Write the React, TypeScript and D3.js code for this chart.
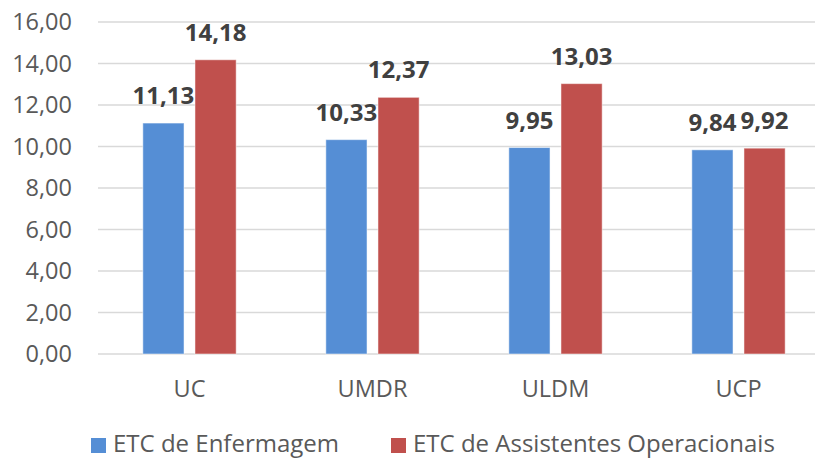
import React from "react";
import { scaleBand, scaleLinear } from "d3";

const categories = ["UC", "UMDR", "ULDM", "UCP"];
const seriesNames = ["ETC de Enfermagem", "ETC de Assistentes Operacionais"];
const enfermagem = [11.13, 10.33, 9.95, 9.84];
const assistentes = [14.18, 12.37, 13.03, 9.92];
const yTicks = [0, 2, 4, 6, 8, 10, 12, 14, 16];
const colors = ["#558ED5", "#C0504D"];

const fmt = (v: number) => v.toFixed(2).replace(".", ",");

const width = 815;
const height = 458;
const font = "'Open Sans', 'Noto Sans', sans-serif";

const App = () => {
  const x0 = scaleBand<string>()
    .domain(categories)
    .range([98, 830])
    .paddingInner(0.49)
    .paddingOuter(0.245);

  const x1 = scaleBand<string>()
    .domain(seriesNames)
    .range([0, x0.bandwidth()])
    .paddingInner(0.21);

  const y = scaleLinear().domain([0, 16]).range([354, 22]);

  const series = [enfermagem, assistentes];

  return (
    <svg
      width={width}
      height={height}
      style={{ position: "absolute", left: 0, top: 0, background: "#fff" }}
      fontFamily={font}
    >
      {/* grid + y labels */}
      {yTicks.map((t) => (
        <g key={t}>
          <line
            x1={98}
            x2={width}
            y1={y(t)}
            y2={y(t)}
            stroke="#d9d9d9"
            strokeWidth={1.5}
          />
          <text
            x={72}
            y={y(t)}
            dy="0.36em"
            textAnchor="end"
            fontSize={23.5}
            fill="#595959"
          >
            {fmt(t)}
          </text>
        </g>
      ))}

      {/* bars */}
      {categories.map((c, i) => (
        <g key={c} transform={`translate(${x0(c)},0)`}>
          {seriesNames.map((s, j) => {
            const v = series[j][i];
            const bx = x1(s) ?? 0;
            return (
              <g key={s}>
                <rect
                  x={bx}
                  y={y(v)}
                  width={x1.bandwidth()}
                  height={y(0) - y(v)}
                  fill={colors[j]}
                  stroke="#ffffff"
                  strokeOpacity={0.5}
                  strokeWidth={1}
                />
                <text
                  x={bx + x1.bandwidth() / 2}
                  y={y(v) - 19}
                  textAnchor="middle"
                  fontSize={24}
                  fontWeight="bold"
                  fill="#404040"
                >
                  {fmt(v)}
                </text>
              </g>
            );
          })}
          <text
            x={x0.bandwidth() / 2}
            y={397}
            textAnchor="middle"
            fontSize={23.5}
            fill="#595959"
          >
            {c}
          </text>
        </g>
      ))}

      {/* legend */}
      {seriesNames.map((s, j) => {
        const lx = j === 0 ? 91 : 391;
        return (
          <g key={s}>
            <rect x={lx} y={438} width={15} height={15} fill={colors[j]} />
            <text x={lx + 22} y={452} fontSize={24} fill="#595959">
              {s}
            </text>
          </g>
        );
      })}
    </svg>
  );
};

export default App;
